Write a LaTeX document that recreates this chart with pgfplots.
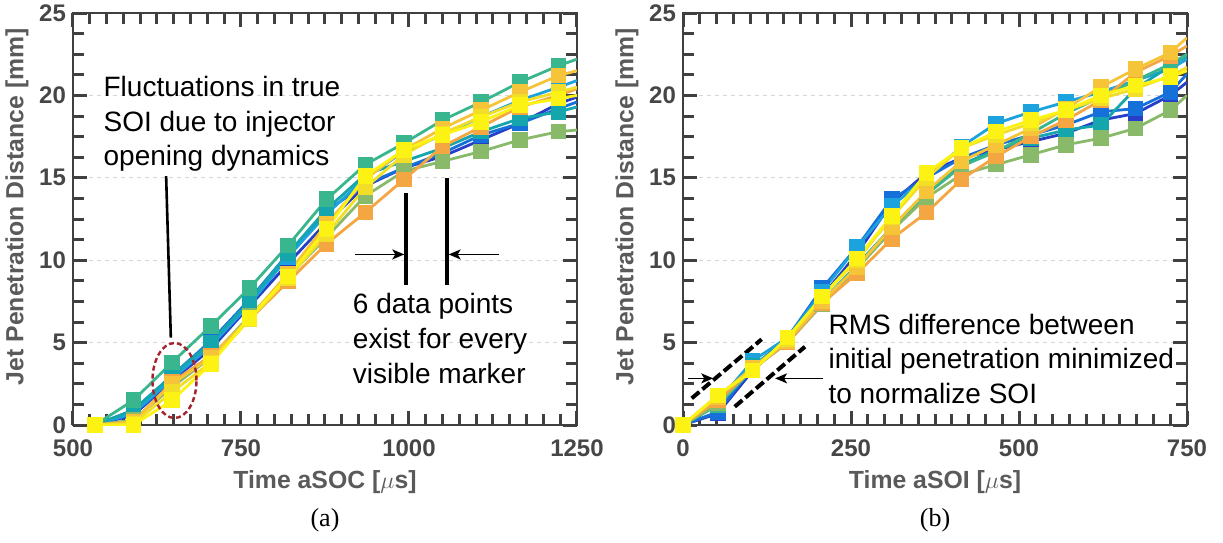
\documentclass[border=0pt]{standalone}
\usepackage{fontspec}
\setmainfont{Liberation Sans}
\newfontfamily\serifrm{Liberation Serif}
\usepackage{pgfplots}
\pgfplotsset{compat=1.18}
\usepackage{pgfplotstable}
\usetikzlibrary{arrows.meta}

\definecolor{c1}{RGB}{38,62,200}
\definecolor{c2}{RGB}{22,112,218}
\definecolor{c3}{RGB}{28,162,220}
\definecolor{c4}{RGB}{20,166,172}
\definecolor{c5}{RGB}{58,182,142}
\definecolor{c6}{RGB}{136,186,106}
\definecolor{c7}{RGB}{243,166,66}
\definecolor{c8}{RGB}{246,196,56}
\definecolor{c9}{RGB}{242,222,40}
\definecolor{c10}{RGB}{252,242,20}
\definecolor{axgray}{RGB}{64,64,64}
\definecolor{tickgray}{RGB}{70,70,70}
\definecolor{labgray}{RGB}{90,90,90}
\definecolor{ellred}{RGB}{165,35,45}

\newcommand\annfont{\fontsize{14}{17}\selectfont}

\pgfplotstableread{
x c1 c2 c3 c4 c5 c6 c7 c8 c9 c10
532.5 0 0 0 0 0 0 0 0 0 0
590 0.6 0.9 0.7 0.9 1.5 0.3 0.2 0.2 0.1 0
647.5 2.7 3.0 2.8 3.0 3.8 2.3 2.6 2.5 2.0 1.5
705 4.6 5.1 4.8 5.0 6.0 4.1 4.2 4.1 3.8 3.7
762.5 7.2 7.6 7.3 7.5 8.3 6.6 6.4 6.5 6.4 6.5
820 9.8 10.4 10.2 10.4 10.9 9.0 8.7 9.2 8.9 9.0
877.5 12.3 13.0 12.8 13.1 13.7 11.4 11.0 12.2 11.6 11.9
935 14.5 14.6 15.0 15.2 15.8 13.9 12.9 14.9 14.4 15.1
992.5 15.6 15.6 16.6 16.0 17.1 15.4 14.9 16.7 16.4 16.7
1050 16.3 16.5 17.6 16.8 18.5 16.0 16.9 18.0 17.7 17.6
1107.5 17.3 17.6 18.7 17.8 19.6 16.6 18.1 19.1 18.7 18.4
1165 18.3 18.3 19.7 18.6 20.8 17.3 19.3 20.2 19.6 19.4
1222.5 19.5 19.2 20.5 19.0 21.8 17.8 20.0 21.2 20.2 19.8
1250 19.9 19.6 20.9 19.3 22.2 17.9 20.4 21.5 20.5 20.0
}\leftdata

\pgfplotstableread{
x c1 c2 c3 c4 c5 c6 c7 c8 c9 c10
0 0 0 0 0 0 0 0 0 0 0
51.8 0.7 0.8 1.4 1.3 1.2 1.3 1.5 1.7 1.8 1.8
103.6 3.3 3.5 3.9 3.6 3.4 3.4 3.4 3.5 3.3 3.3
155.4 5.2 5.3 5.3 5.1 5.0 5.0 5.0 5.1 5.2 5.3
207.2 7.8 8.3 8.1 7.5 7.4 7.3 7.4 7.5 7.8 7.8
259 10.4 10.8 10.8 9.7 9.6 9.5 9.2 9.6 10.0 10.1
310.8 13.5 13.7 13.3 12.0 11.9 11.8 11.3 12.0 12.6 12.7
362.6 15.3 15.0 15.0 14.1 14.0 13.8 12.9 14.2 15.0 15.3
414.4 16.2 16.2 16.9 15.8 15.7 15.2 14.9 16.0 16.8 16.8
466.2 16.7 17.0 18.3 16.7 16.6 15.8 16.3 17.0 17.6 17.8
518 17.2 17.6 19.0 17.4 17.7 16.4 17.5 18.0 18.3 18.5
569.8 17.7 18.2 19.6 17.9 18.9 17.0 18.5 19.2 19.1 19.1
621.6 18.5 19.0 20.2 18.2 19.9 17.4 19.7 20.5 19.8 20.0
673.4 18.9 19.2 20.9 20.4 20.9 18.0 21.4 21.6 20.4 20.6
725.2 20.0 20.2 21.6 21.8 21.9 19.1 22.4 22.6 21.2 21.1
750 20.8 21.3 22.2 22.4 22.5 20.0 23.0 23.5 21.7 21.5
}\rightdata

\pgfplotsset{
  jetaxis/.style={
    width=252pt, height=206pt, scale only axis,
    anchor=south west,
    ymin=0, ymax=25, ytick={0,5,10,15,20,25}, minor y tick num=3,
    minor x tick num=9,
    tick align=inside,
    xtick pos=both, ytick pos=both,
    major tick length=7pt, minor tick length=5.5pt,
    axis line style={draw=axgray, line width=0.85pt},
    tick style={draw=axgray, line width=1.5pt},
    ymajorgrids,
    major grid style={draw=black!16, dash pattern=on 2pt off 2pt, line width=0.6pt},
    tick label style={font=\fontsize{12}{14}\selectfont\bfseries, text=tickgray},
    xticklabel style={yshift=-4pt},
    /pgf/number format/assume math mode=true,
    /pgf/number format/1000 sep={},
    label style={font=\fontsize{12.4}{14}\selectfont\bfseries, text=labgray},
    ylabel={Jet Penetration Distance [mm]},
    ylabel style={at={(axis description cs:-0.111,0.53)}, anchor=center},
    xlabel style={at={(axis description cs:0.5,-0.138)}, anchor=center},
  },
  ser/.style={color=#1, line width=1.4pt, mark=square*, mark size=3.2pt, mark options={solid, fill=#1, draw=#1}},
}

\begin{document}
\begin{tikzpicture}
\useasboundingbox (-36.5pt,-58.5pt) rectangle (575pt,212.5pt);

% ---------- panel (a) ----------
\begin{axis}[jetaxis, name=A, at={(0pt,0pt)},
  xmin=500, xmax=1250, xtick={500,750,1000,1250},
  xlabel={Time aSOC [$\mu$s]}]
\foreach \c in {c1,c2,c3,c4,c5,c6,c7,c8,c9,c10}{
  \edef\temp{\noexpand\addplot[ser=\c, mark indices={1,2,3,4,5,6,7,8,9,10,11,12,13}] table[x=x, y=\c] {\noexpand\leftdata};}
  \temp
}
\draw[ellred, line width=1.2pt, dash pattern=on 2.5pt off 1.5pt] (axis cs:651,2.7) ellipse [x radius=11pt, y radius=18.75pt];
\draw[black, line width=1.3pt] (axis cs:645.6,5.3) -- (axis cs:638.6,15.1);
\draw[black, line width=2pt] (axis cs:995.5,8.5) -- (axis cs:995.5,14.06);
\draw[black, line width=2pt] (axis cs:1056,8.5) -- (axis cs:1056,15.0);
\draw[black, line width=0.8pt, -{Stealth[length=6pt,width=5pt,inset=1.5pt]}] (axis cs:920,10.35) -- (axis cs:993,10.35);
\draw[black, line width=0.8pt, -{Stealth[length=6pt,width=5pt,inset=1.5pt]}] (axis cs:1134,10.35) -- (axis cs:1059,10.35);
\node[anchor=base west, font=\annfont, inner sep=0pt] at (axis cs:545,19.94) {Fluctuations in true};
\node[anchor=base west, font=\annfont, inner sep=0pt] at (axis cs:545,17.83) {SOI due to injector};
\node[anchor=base west, font=\annfont, inner sep=0pt] at (axis cs:545,15.76) {opening dynamics};
\node[anchor=base west, font=\annfont, inner sep=0pt] at (axis cs:916,6.75) {6 data points};
\node[anchor=base west, font=\annfont, inner sep=0pt] at (axis cs:916,4.64) {exist for every};
\node[anchor=base west, font=\annfont, inner sep=0pt] at (axis cs:916,2.53) {visible marker};
\end{axis}
\node[font=\serifrm\fontsize{13}{15}\selectfont] at ([yshift=-47.5pt]A.south) {(a)};

% ---------- panel (b) ----------
\begin{axis}[jetaxis, name=B, at={(305pt,0pt)},
  xmin=0, xmax=750, xtick={0,250,500,750},
  xlabel={Time aSOI [$\mu$s]}]
\foreach \c in {c1,c2,c3,c4,c5,c6,c7,c8,c9,c10}{
  \edef\temp{\noexpand\addplot[ser=\c, mark indices={1,2,3,4,5,6,7,8,9,10,11,12,13,14,15}] table[x=x, y=\c] {\noexpand\rightdata};}
  \temp
}
\draw[black, line width=2pt, dash pattern=on 5pt off 2pt] (axis cs:13,1.62) -- (axis cs:117,5.2);
\draw[black, line width=2pt, dash pattern=on 5pt off 2pt] (axis cs:77,1.11) -- (axis cs:181.5,4.75);
\draw[black, line width=0.8pt, -{Stealth[length=6pt,width=5pt,inset=1.5pt]}] (axis cs:8,2.83) -- (axis cs:45,2.83);
\draw[black, line width=0.8pt, -{Stealth[length=6pt,width=5pt,inset=1.5pt]}] (axis cs:209,2.83) -- (axis cs:137,2.83);
\node[anchor=base west, font=\annfont, inner sep=0pt] at (axis cs:216,5.49) {RMS difference between};
\node[anchor=base west, font=\annfont, inner sep=0pt] at (axis cs:216,3.42) {initial penetration minimized};
\node[anchor=base west, font=\annfont, inner sep=0pt] at (axis cs:216,1.31) {to normalize SOI};
\end{axis}
\node[font=\serifrm\fontsize{13}{15}\selectfont] at ([yshift=-47.5pt]B.south) {(b)};
\end{tikzpicture}
\end{document}
